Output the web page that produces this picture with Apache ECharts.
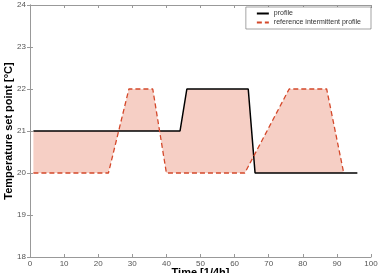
<!DOCTYPE html>
<html>
<head>
<meta charset="utf-8">
<script src="https://cdn.jsdelivr.net/npm/echarts@6/dist/echarts.min.js"></script>
<style>
  html, body { margin: 0; padding: 0; background: #fff; }
  #main { width: 379px; height: 273px; }
</style>
</head>
<body>
<div id="main"></div>
<script>
// profile breakpoints (time in 1/4h, set point in °C)
const profileX = [1, 44, 46, 64, 66, 96]
const profileY = [21, 21, 22, 22, 20, 20]
// reference intermittent profile breakpoints
const refX = [1, 23, 29, 36, 40, 63, 76, 87, 92]
const refY = [20, 20, 22, 22, 20, 20, 22, 22, 20]
const xTicks = [0, 10, 20, 30, 40, 50, 60, 70, 80, 90, 100]
const yTicks = [18, 19, 20, 21, 22, 23, 24]

const profile = profileX.map((x, i) => [x, profileY[i]])
const reference = refX.map((x, i) => [x, refY[i]])

const chart = echarts.init(document.getElementById('main'))

const tickLabel = { color: '#555', fontSize: 8, fontFamily: 'Liberation Sans' }
const axisLine = { lineStyle: { color: '#999', width: 1 } }

chart.setOption({
  animation: false,
  grid: { left: 30, right: 8, top: 5, bottom: 16, outerBoundsMode: 'none', containLabel: false },
  legend: {
    right: 8,
    top: 7,
    orient: 'vertical',
    itemGap: 2,
    itemWidth: 12,
    itemHeight: 8,
    padding: [3, 10, 3, 10],
    borderColor: '#666',
    borderWidth: 0.6,
    backgroundColor: '#fff',
    itemStyle: { color: 'transparent', borderWidth: 0 },
    textStyle: { fontSize: 7, color: '#333', fontFamily: 'Liberation Sans' },
    data: ['profile', 'reference intermittent profile'],
  },
  xAxis: [
    {
      type: 'value',
      min: xTicks[0],
      max: xTicks[xTicks.length - 1],
      interval: 10,
      name: 'Time [1/4h]',
      nameLocation: 'middle',
      nameGap: 10,
      nameMoveOverlap: false,
      nameTextStyle: { fontSize: 11, fontWeight: 'bold', color: '#000', fontFamily: 'Liberation Sans' },
      axisLine,
      axisTick: { inside: true, length: 3, lineStyle: { color: '#999' } },
      axisLabel: { ...tickLabel, margin: 3 },
      splitLine: { show: false },
    },
    {
      type: 'value',
      position: 'top',
      min: xTicks[0],
      max: xTicks[xTicks.length - 1],
      interval: 10,
      axisLine,
      axisTick: { inside: true, length: 3, lineStyle: { color: '#999' } },
      axisLabel: { show: false },
      splitLine: { show: false },
    },
  ],
  yAxis: [
    {
      type: 'value',
      min: yTicks[0],
      max: yTicks[yTicks.length - 1],
      interval: 1,
      name: 'Temperature set point [°C]',
      nameLocation: 'middle',
      nameGap: 16,
      nameMoveOverlap: false,
      nameTextStyle: { fontSize: 11, fontWeight: 'bold', color: '#000', fontFamily: 'Liberation Sans' },
      axisLine,
      axisTick: { inside: true, length: 3, lineStyle: { color: '#999' } },
      axisLabel: { ...tickLabel, margin: 4 },
      splitLine: { show: false },
    },
    {
      type: 'value',
      position: 'right',
      min: yTicks[0],
      max: yTicks[yTicks.length - 1],
      interval: 1,
      axisLine,
      axisTick: { inside: true, length: 3, lineStyle: { color: '#999' } },
      axisLabel: { show: false },
      splitLine: { show: false },
    },
  ],
  series: [
    {
      // shaded region between the two profiles
      type: 'custom',
      name: 'band',
      silent: true,
      z: 1,
      data: [[0, 0]],
      renderItem: (params, api) => {
        const pts = profile.map((p) => api.coord(p))
          .concat(reference.slice().reverse().map((p) => api.coord(p)))
        return {
          type: 'polygon',
          shape: { points: pts },
          style: { fill: '#f6cfc5', stroke: null },
        }
      },
    },
    {
      name: 'profile',
      type: 'line',
      data: profile,
      symbol: 'none',
      z: 3,
      lineStyle: { color: '#000', width: 1.5 },
      itemStyle: { color: '#000' },
    },
    {
      name: 'reference intermittent profile',
      type: 'line',
      data: reference,
      symbol: 'none',
      z: 4,
      lineStyle: { color: '#d4482a', width: 1.3, type: [5, 3] },
      itemStyle: { color: '#d4482a' },
    },
  ],
})
</script>
</body>
</html>
